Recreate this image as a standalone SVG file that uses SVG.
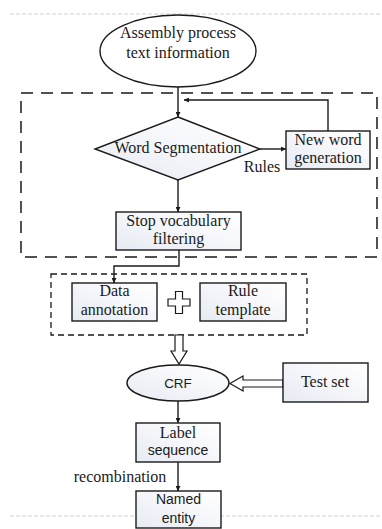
<svg xmlns="http://www.w3.org/2000/svg" width="382" height="529" viewBox="0 0 382 529">
<defs>
<linearGradient id="g" x1="0" y1="1" x2="1" y2="0">
<stop offset="0" stop-color="#e6eaf3"/>
<stop offset="0.6" stop-color="#f7f8fb"/>
<stop offset="1" stop-color="#ffffff"/>
</linearGradient>
<marker id="ah" viewBox="0 0 10 10" refX="10" refY="5" markerWidth="5" markerHeight="5" orient="auto" markerUnits="userSpaceOnUse">
<path d="M0,0 L10,5 L0,10 z" fill="#1a1a1a"/>
</marker>
<style>
.s{font-family:"Liberation Serif","Times New Roman",serif;font-size:16px;fill:#1a1a1a;text-anchor:middle}
.ss{font-family:"Liberation Sans",Arial,sans-serif;font-size:14px;fill:#1a1a1a;text-anchor:middle}
.box{fill:url(#g);stroke:#1a1a1a;stroke-width:1.4}
.ln{fill:none;stroke:#1a1a1a;stroke-width:1.4}
.hollow{fill:#fff;stroke:#1a1a1a;stroke-width:1.2;stroke-linejoin:miter}
.guide{stroke:#cfcfcf;stroke-width:1;stroke-dasharray:4 2}
</style>
</defs>
<rect width="382" height="529" fill="#fff"/>
<line class="guide" x1="10" y1="14" x2="382" y2="14"/>
<line class="guide" x1="10" y1="516" x2="382" y2="516"/>
<g id="group-segmentation">
<rect x="21" y="93" width="356" height="164" fill="none" stroke="#1a1a1a" stroke-width="1.5" stroke-dasharray="12 8"/>
</g>
<g id="group-training">
<rect x="51" y="274" width="256" height="61" fill="none" stroke="#1a1a1a" stroke-width="1.3" stroke-dasharray="6 4"/>
</g>
<g id="connectors">
<line class="ln" x1="178" y1="87" x2="178" y2="117" marker-end="url(#ah)"/>
<polyline class="ln" points="328,131 328,100 184,100" marker-end="url(#ah)"/>
<line class="ln" x1="260" y1="149" x2="286" y2="149" marker-end="url(#ah)"/>
<line class="ln" x1="178" y1="180" x2="178" y2="212" marker-end="url(#ah)"/>
<polyline class="ln" points="179,250 179,266 114,266 114,283" marker-end="url(#ah)"/>
<polygon class="hollow" points="175,335 183,335 183,351 187,351 179,364 171,351 175,351"/>
<polygon class="hollow" points="283,380 243,380 243,376 230,383.5 243,391 243,387 283,387"/>
<line class="ln" x1="178" y1="401" x2="178" y2="423" marker-end="url(#ah)"/>
<line class="ln" x1="178" y1="462" x2="178" y2="491" marker-end="url(#ah)"/>
<text class="s" x="262" y="172">Rules</text>
<text class="s" x="120" y="482">recombination</text>
</g>
<g id="node-assembly">
<ellipse cx="178" cy="51" rx="78" ry="36" fill="#fff" stroke="#1a1a1a" stroke-width="1.4"/>
<text class="s" x="178" y="38">Assembly process</text>
<text class="s" x="178" y="58">text information</text>
</g>
<g id="node-word-seg">
<polygon class="box" points="178,117 260,149 178,180 95,149"/>
<text class="s" x="178" y="153">Word Segmentation</text>
</g>
<g id="node-new-word">
<rect class="box" x="286" y="131" width="84" height="38"/>
<text class="s" x="328" y="145">New word</text>
<text class="s" x="328" y="163">generation</text>
</g>
<g id="node-stop">
<rect class="box" x="116" y="212" width="125" height="38"/>
<text class="s" x="178.5" y="226">Stop vocabulary</text>
<text class="s" x="178.5" y="244">filtering</text>
</g>
<g id="node-data">
<rect class="box" x="72" y="283" width="85" height="38"/>
<text class="s" x="114.5" y="296">Data</text>
<text class="s" x="114.5" y="315">annotation</text>
</g>
<g id="node-plus">
<polygon fill="#fff" stroke="#1a1a1a" stroke-width="1.2" points="175.5,291.5 182.5,291.5 182.5,299 190,299 190,306 182.5,306 182.5,313.5 175.5,313.5 175.5,306 168,306 168,299 175.5,299"/>
</g>
<g id="node-rule">
<rect class="box" x="200" y="283" width="86" height="38"/>
<text class="s" x="243" y="296">Rule</text>
<text class="s" x="243" y="315">template</text>
</g>
<g id="node-crf">
<ellipse cx="178" cy="383" rx="51" ry="18" class="box"/>
<text class="ss" x="178" y="388" style="font-size:13.5px">CRF</text>
</g>
<g id="node-test">
<rect class="box" x="283" y="363" width="85" height="39"/>
<text class="s" x="325" y="387">Test set</text>
</g>
<g id="node-label">
<rect class="box" x="136" y="423" width="84" height="39"/>
<text class="s" x="178" y="438">Label</text>
<text class="ss" x="178" y="455">sequence</text>
</g>
<g id="node-named">
<rect class="box" x="136" y="491" width="85" height="37"/>
<text class="ss" x="178.5" y="504">Named</text>
<text class="ss" x="178.5" y="523">entity</text>
</g>
</svg>
